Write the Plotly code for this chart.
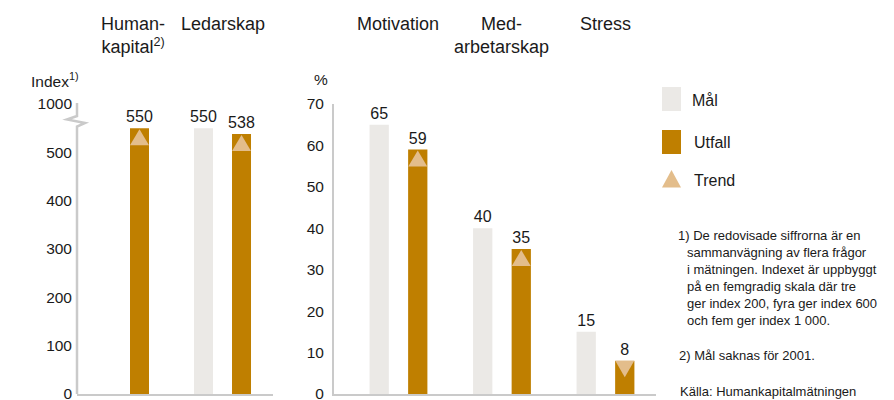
import plotly.graph_objects as go

# ---------------- data ----------------
left_categories = ["Human-<br>kapital<sup>2)</sup>", "Ledarskap"]
left_mal = [None, 550]
left_utfall = [550, 538]
left_trend = ["up", "up"]

right_categories = ["Motivation", "Med-<br>arbetarskap", "Stress"]
right_mal = [65, 40, 15]
right_utfall = [59, 35, 8]
right_trend = ["up", "up", "down"]

left_tickvals = [0, 100, 200, 300, 400, 500, 600]
left_ticktext = ["0", "100", "200", "300", "400", "500", "1000"]
right_tickvals = [0, 10, 20, 30, 40, 50, 60, 70]
right_ticktext = ["0", "10", "20", "30", "40", "50", "60", "70"]

legend_labels = ["Mål", "Utfall", "Trend"]
footnote1_first = "1) De redovisade siffrorna är en"
footnote1_rest = ("sammanvägning av flera frågor<br>i mätningen. Indexet är uppbyggt<br>"
                  "på en femgradig skala där tre<br>ger index 200, fyra ger index 600<br>"
                  "och fem ger index 1 000.")
footnote2 = "2) Mål saknas för 2001."
source = "Källa: Humankapitalmätningen"

# ---------------- style ----------------
W, H = 894, 400
FONT = "Liberation Sans, Arial, Helvetica, sans-serif"
TXT = "#1a1a1a"
C_MAL = "#ebe9e6"
C_UTF = "#bf7f00"
C_TRD = "#e3bd8b"
AXC = "#cacaca"
BARGAP = 0.255
GROUPGAP = 0.5
OFFSET = (1 - BARGAP) / 4

def px(x):
    return x / W

def py(y):
    return (H - y) / H

YDOM = [py(394), py(104)]

fig = go.Figure()

def add_panel(cats, mal, utf, xa, ya):
    xs = list(range(len(cats)))
    fig.add_trace(go.Bar(
        x=xs, y=mal, xaxis=xa, yaxis=ya, marker=dict(color=C_MAL, line=dict(width=0)), name="Mål",
        text=[("" if v is None else str(v)) for v in mal], textposition="outside",
        constraintext="none", cliponaxis=False,
        textfont=dict(size=16, color=TXT, family=FONT), showlegend=False))
    fig.add_trace(go.Bar(
        x=xs, y=utf, xaxis=xa, yaxis=ya, marker=dict(color=C_UTF, line=dict(width=0)), name="Utfall",
        text=[str(v) for v in utf], textposition="outside",
        constraintext="none", cliponaxis=False,
        textfont=dict(size=16, color=TXT, family=FONT), showlegend=False))

add_panel(left_categories, left_mal, left_utfall, "x", "y")
add_panel(right_categories, right_mal, right_utfall, "x2", "y2")

shapes = []
UP = "M-9.5,-17 L9.5,-17 L0,-1 Z"
DOWN = "M-9.5,0 L9.5,0 L0,-16.5 Z"
for trend, vals, xr, yr in [(left_trend, left_utfall, "x", "y"),
                            (right_trend, right_utfall, "x2", "y2")]:
    for i, (t, v) in enumerate(zip(trend, vals)):
        shapes.append(dict(type="path", xref=xr, yref=yr,
                           xsizemode="pixel", ysizemode="pixel",
                           xanchor=i + OFFSET, yanchor=v,
                           path=UP if t == "up" else DOWN,
                           fillcolor=C_TRD, line=dict(width=0), layer="above"))

# left axis line with break
shapes.append(dict(type="path", xref="paper", yref="paper",
                   path=(f"M{px(77)},{py(103)} L{px(77)},{py(116)} L{px(67)},{py(119.5)} "
                         f"L{px(85)},{py(123)} L{px(77)},{py(126.5)} L{px(77)},{py(394)}"),
                   line=dict(color=AXC, width=2.5)))

# legend symbols
shapes.append(dict(type="rect", xref="paper", yref="paper", x0=px(662), x1=px(681),
                   y0=py(111), y1=py(87), fillcolor=C_MAL, line=dict(width=0)))
shapes.append(dict(type="rect", xref="paper", yref="paper", x0=px(662), x1=px(681),
                   y0=py(154), y1=py(130), fillcolor=C_UTF, line=dict(width=0)))
shapes.append(dict(type="path", xref="paper", yref="paper",
                   path=f"M{px(662)},{py(187.5)} L{px(681)},{py(187.5)} L{px(671.5)},{py(170)} Z",
                   fillcolor=C_TRD, line=dict(width=0)))

ann = []
for i, c in enumerate(left_categories):
    ann.append(dict(x=i, xref="x", y=py(12), yref="paper", yanchor="top", xanchor="center",
                    text=c, showarrow=False, font=dict(size=18, color=TXT, family=FONT),
                    xshift=12.5 if i == 0 else 0))
for i, c in enumerate(right_categories):
    ann.append(dict(x=i, xref="x2", y=py(12), yref="paper", yanchor="top", xanchor="center",
                    text=c, showarrow=False, font=dict(size=18, color=TXT, family=FONT)))

ann.append(dict(x=px(29), y=py(80), xref="paper", yref="paper", xanchor="left", yanchor="middle",
                text="Index<sup>1)</sup>", showarrow=False, font=dict(size=15.5, color=TXT, family=FONT)))
ann.append(dict(x=px(320.5), y=py(80), xref="paper", yref="paper", xanchor="center", yanchor="middle",
                text="%", showarrow=False, font=dict(size=15.5, color=TXT, family=FONT)))

for lab, xx, yy in zip(legend_labels, [690, 691.5, 691.5], [100.7, 142.7, 180.7]):
    ann.append(dict(x=px(xx), y=py(yy), xref="paper", yref="paper", xanchor="left", yanchor="middle",
                    text=lab, showarrow=False, font=dict(size=16, color=TXT, family=FONT)))

fn = dict(size=13, color=TXT, family=FONT)
ann.append(dict(x=px(676), y=py(235), xref="paper", yref="paper", xanchor="left", yanchor="middle",
                text=footnote1_first, showarrow=False, font=fn, align="left"))
ann.append(dict(x=px(684.5), y=py(286.7), xref="paper", yref="paper", xanchor="left", yanchor="middle",
                text=footnote1_rest, showarrow=False, font=fn, align="left"))
ann.append(dict(x=px(677), y=py(355), xref="paper", yref="paper", xanchor="left", yanchor="middle",
                text=footnote2, showarrow=False, font=fn, align="left"))
ann.append(dict(x=px(678), y=py(391.5), xref="paper", yref="paper", xanchor="left", yanchor="middle",
                text=source, showarrow=False, font=fn, align="left"))

tickfont = dict(size=15.5, color=TXT, family=FONT)
fig.update_layout(
    template="none",
    width=W, height=H, margin=dict(l=0, r=0, t=0, b=0, pad=0), autosize=False,
    paper_bgcolor="white", plot_bgcolor="white",
    barmode="group", bargap=BARGAP, bargroupgap=GROUPGAP,
    font=dict(family=FONT, color=TXT),
    showlegend=False,
    xaxis=dict(domain=[px(77), px(273)], range=[-0.4265, 1.495], showticklabels=False,
               showgrid=False, zeroline=False, showline=True, linecolor=AXC, linewidth=2,
               ticks="", anchor="y", automargin=False),
    yaxis=dict(domain=YDOM, range=[0, 600], tickvals=left_tickvals, ticktext=left_ticktext,
               showgrid=False, zeroline=False, showline=False, tickfont=tickfont, ticks="",
               ticklabelstandoff=4, ticklabeloverflow="allow", anchor="x", automargin=False),
    xaxis2=dict(domain=[px(334), px(656)], range=[-0.623, 2.488], showticklabels=False,
                showgrid=False, zeroline=False, showline=True, linecolor=AXC, linewidth=2,
                ticks="", anchor="y2", automargin=False),
    yaxis2=dict(domain=YDOM, range=[0, 70], tickvals=right_tickvals, ticktext=right_ticktext,
                showgrid=False, zeroline=False, showline=True, linecolor=AXC, linewidth=2,
                tickfont=tickfont, ticks="", ticklabelstandoff=5, ticklabeloverflow="allow",
                anchor="x2", automargin=False),
    shapes=shapes, annotations=ann,
)

fig.write_html("out.html")
